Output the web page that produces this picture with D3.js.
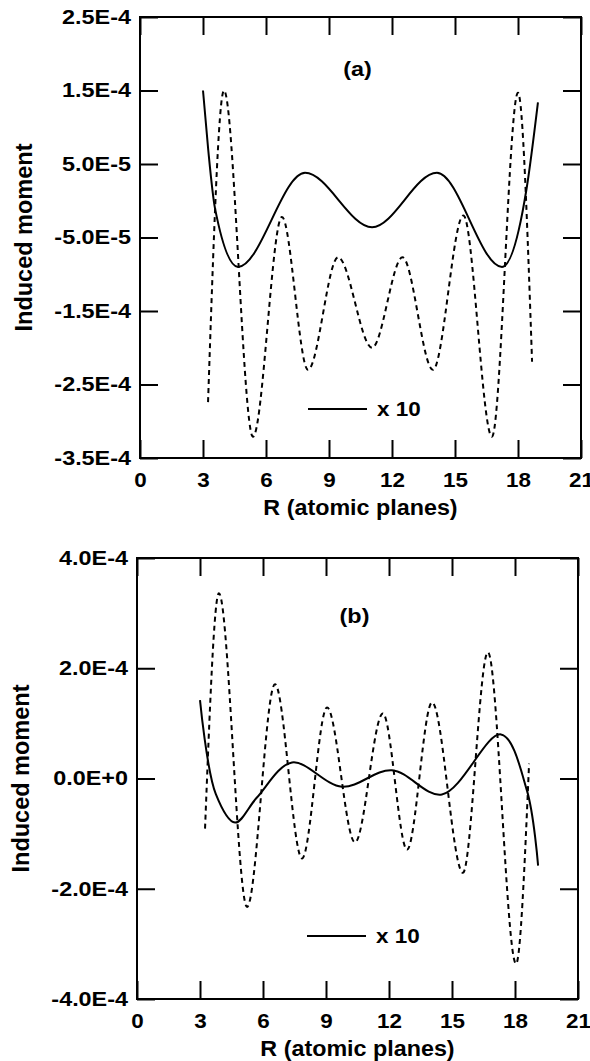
<!DOCTYPE html>
<html>
<head>
<meta charset="utf-8">
<script src="https://cdn.jsdelivr.net/npm/d3@7"></script>
<style>
  body { margin: 0; background: #fff; }
  svg text { font-family: "Liberation Sans", Arial, sans-serif; font-weight: bold; fill: #000; }
</style>
</head>
<body>
<div id="chart"></div>
<script>
// ---- data ----
var xTicks = [0, 3, 6, 9, 12, 15, 18, 21];
var xTickLabels = ["0", "3", "6", "9", "12", "15", "18", "21"];

// panel (a)
var aYTicks = [-3.5e-4, -2.5e-4, -1.5e-4, -5.0e-5, 5.0e-5, 1.5e-4, 2.5e-4];
var aYTickLabels = ["-3.5E-4", "-2.5E-4", "-1.5E-4", "-5.0E-5", "5.0E-5", "1.5E-4", "2.5E-4"];
var aSolidR = [3.0, 3.25, 3.57, 4.67, 7.86, 11.05, 14.14, 17.24, 18.4, 18.95];
var aSolidM = [1.5e-4, 6.9e-5, -1.0e-5, -9.0e-5, 3.8e-5, -3.6e-5, 3.8e-5, -9.0e-5, 1.5e-5, 1.34e-4];
var aDashR = [3.24, 4.0, 5.38, 6.76, 8.0, 9.43, 11.05, 12.5, 13.95, 15.4, 16.76, 18.0, 18.67];
var aDashM = [-2.74e-4, 1.5e-4, -3.21e-4, -2.2e-5, -2.3e-4, -7.7e-5, -2.0e-4, -7.7e-5, -2.3e-4, -2.0e-5, -3.21e-4, 1.47e-4, -2.19e-4];

// panel (b)
var bYTicks = [-4e-4, -2e-4, 0, 2e-4, 4e-4];
var bYTickLabels = ["-4.0E-4", "-2.0E-4", "0.0E+0", "2.0E-4", "4.0E-4"];
var bSolidR = [3.0, 3.75, 4.67, 5.7, 7.38, 9.76, 12.14, 14.52, 17.33, 18.57, 19.1];
var bSolidM = [1.42e-4, -2.8e-5, -8.0e-5, -3.5e-5, 2.9e-5, -1.5e-5, 1.5e-5, -2.9e-5, 8.0e-5, -2.2e-5, -1.58e-4];
var bDashR = [3.24, 3.9, 5.24, 6.57, 7.86, 9.05, 10.38, 11.71, 12.86, 14.05, 15.52, 16.71, 18.05, 18.67];
var bDashM = [-9.1e-5, 3.36e-4, -2.33e-4, 1.71e-4, -1.45e-4, 1.29e-4, -1.16e-4, 1.18e-4, -1.29e-4, 1.38e-4, -1.71e-4, 2.29e-4, -3.36e-4, 2.7e-5];

var w = 590, h = 1061;
var svg = d3.select("#chart").append("svg")
    .attr("width", w)
    .attr("height", h);

function drawPanel(p) {
    var g = svg.append("g").attr("transform", "translate(" + p.left + "," + p.top + ")");
    var size = p.size;

    var x = d3.scaleLinear().domain([0, 21]).range([0, size]);
    var y = d3.scaleLinear().domain(p.yDomain).range([size, 0]);

    // ticks point inward on all four sides
    var bottom = g.append("g").attr("transform", "translate(0," + size + ")")
        .call(d3.axisBottom(x).tickValues(xTicks).tickFormat(function (d, i) { return xTickLabels[i]; })
            .tickSize(-18).tickSizeOuter(0).tickPadding(15));
    var top = g.append("g")
        .call(d3.axisTop(x).tickValues(xTicks).tickFormat("").tickSize(-18).tickSizeOuter(0));
    var left = g.append("g")
        .call(d3.axisLeft(y).tickValues(p.yTicks).tickFormat(function (d, i) { return p.yLabels[i]; })
            .tickSize(-18).tickSizeOuter(0).tickPadding(9));
    var right = g.append("g").attr("transform", "translate(" + size + ",0)")
        .call(d3.axisRight(y).tickValues(p.yTicks).tickFormat("").tickSize(-18).tickSizeOuter(0));

    [bottom, top, left, right].forEach(function (a) {
        a.select(".domain").remove();
        a.selectAll(".tick line").attr("stroke", "#000").attr("stroke-width", 2);
        a.attr("font-family", null).attr("font-size", null);
    });

    bottom.selectAll(".tick text")
        .style("font-size", "19.5px")
        .attr("transform", "scale(1.15,1)");
    left.selectAll(".tick text")
        .style("font-size", "19.5px")
        .attr("x", -9 / 1.2)
        .attr("transform", "scale(1.2,1)");

    // frame
    g.append("rect")
        .attr("width", size).attr("height", size)
        .attr("fill", "none").attr("stroke", "#000").attr("stroke-width", 2);

    var dashLine = d3.line()
        .x(function (d) { return x(d[0]); })
        .y(function (d) { return y(d[1]); })
        .curve(d3.curveMonotoneX);
    var solidLine = d3.line()
        .x(function (d) { return x(d[0]); })
        .y(function (d) { return y(d[1]); })
        .curve(p.solidCurve);

    g.append("path")
        .datum(d3.zip(p.dashR, p.dashM))
        .attr("d", dashLine)
        .attr("fill", "none").attr("stroke", "#000")
        .attr("stroke-width", 2).attr("stroke-dasharray", "5,4");

    g.append("path")
        .datum(d3.zip(p.solidR, p.solidM))
        .attr("d", solidLine)
        .attr("fill", "none").attr("stroke", "#000")
        .attr("stroke-width", 2);

    // panel letter
    g.append("text")
        .attr("transform", "translate(" + (size / 2 - 3) + "," + p.letterY + ") scale(1.2,1)")
        .attr("text-anchor", "middle")
        .style("font-size", "19.5px")
        .text(p.letter);

    // legend "x 10"
    g.append("line")
        .attr("x1", p.legX).attr("x2", p.legX + 59)
        .attr("y1", p.legY).attr("y2", p.legY)
        .attr("stroke", "#000").attr("stroke-width", 2);
    g.append("text")
        .attr("transform", "translate(" + (p.legX + 69) + "," + (p.legY + 7) + ") scale(1.07,1)")
        .style("font-size", "21px")
        .text("x 10");

    // axis titles
    g.append("text")
        .attr("transform", "translate(" + (size / 2) + "," + (size + 57) + ") scale(1.06,1)")
        .attr("text-anchor", "middle")
        .style("font-size", "22px")
        .text("R (atomic planes)");
    g.append("text")
        .attr("transform", "translate(-108," + (size / 2) + ") rotate(-90)")
        .attr("text-anchor", "middle")
        .style("font-size", "23.5px")
        .text("Induced moment");
}

drawPanel({
    left: 140, top: 17, size: 441,
    yDomain: [-3.5e-4, 2.5e-4], yTicks: aYTicks, yLabels: aYTickLabels,
    solidR: aSolidR, solidM: aSolidM, dashR: aDashR, dashM: aDashM,
    solidCurve: d3.curveMonotoneX,
    letter: "(a)", letterY: 59, legX: 168, legY: 392
});
drawPanel({
    left: 137, top: 558, size: 441,
    yDomain: [-4e-4, 4e-4], yTicks: bYTicks, yLabels: bYTickLabels,
    solidR: bSolidR, solidM: bSolidM, dashR: bDashR, dashM: bDashM,
    solidCurve: d3.curveCatmullRom.alpha(0.5),
    letter: "(b)", letterY: 65, legX: 170, legY: 378
});
</script>
</body>
</html>
